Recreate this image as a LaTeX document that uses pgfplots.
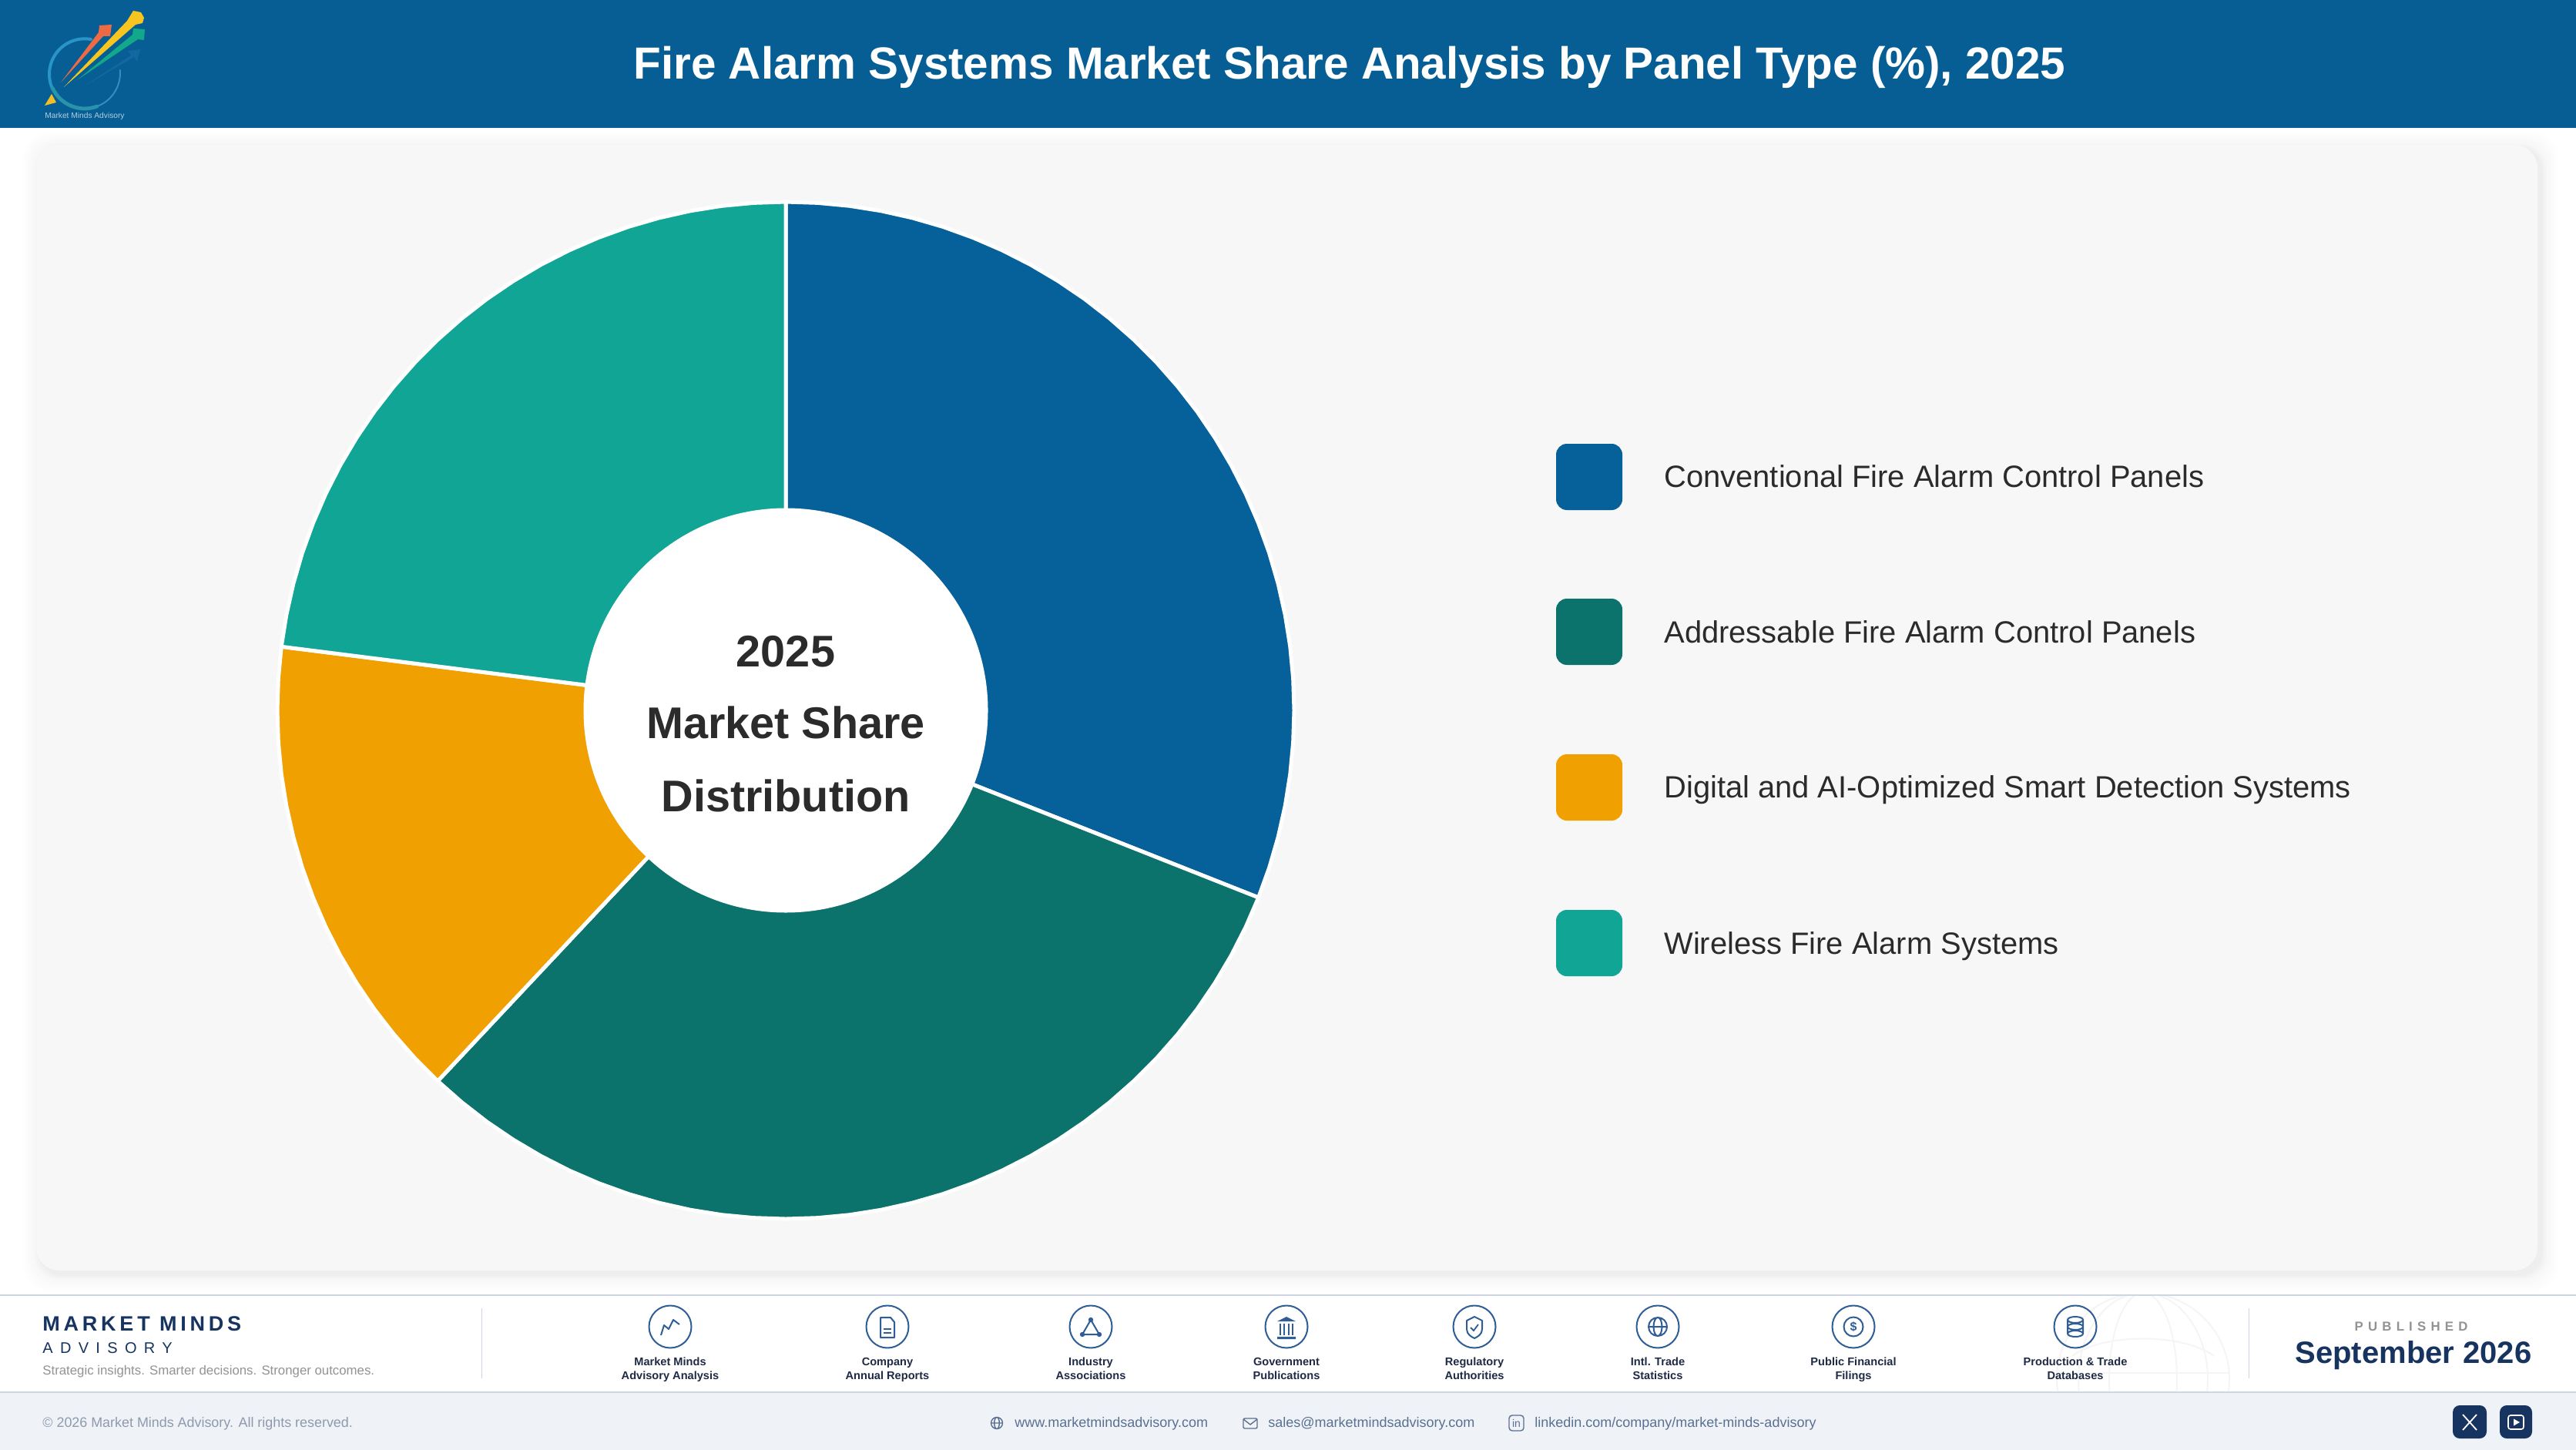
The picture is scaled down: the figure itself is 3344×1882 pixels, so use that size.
\documentclass[border=0pt]{standalone}
\usepackage{fontspec}
\usepackage{pgfplots}
\pgfplotsset{compat=1.18}
\setmainfont{Liberation Sans}
\definecolor{hdr}{HTML}{065E94}
\definecolor{cA}{HTML}{06609A}
\definecolor{cB}{HTML}{0B726C}
\definecolor{cC}{HTML}{F0A000}
\definecolor{cD}{HTML}{10A594}
\definecolor{card}{HTML}{F7F7F8}
\definecolor{navy}{HTML}{17335F}
\definecolor{ico}{HTML}{2F5E96}
\definecolor{lbl}{HTML}{1F2A44}
\definecolor{foot}{HTML}{EFF3F8}
\definecolor{rule}{HTML}{D0D5E3}
\definecolor{ctxt}{HTML}{2B2B2B}
\definecolor{lr}{HTML}{EE6A45}
\definecolor{ly}{HTML}{F6C51F}
\definecolor{lg}{HTML}{12A98A}
\definecolor{lb}{HTML}{1F70AE}
\definecolor{lt}{HTML}{F5BC2A}
\definecolor{ctc}{HTML}{5A7090}
\definecolor{cpy}{HTML}{8E9AAB}
\newcommand{\F}[1]{\fontsize{#1}{#1}\selectfont}
\newcommand{\icon}[3]{%
  \begin{scope}[shift={(#1,1722)}]
    \draw[ico,line width=1pt] (0,0) circle (27.5);
    #3
  \end{scope}
  \node[anchor=base,inner sep=0,text=lbl] at (#1,1772) {\F{7.3}\bfseries #2};}
\begin{document}
\begin{tikzpicture}[x=0.5pt,y=-0.5pt]
\useasboundingbox (0,0) rectangle (3344,1882);
% page
\fill[white] (-4,-4) rectangle (3348,1886);
\fill[hdr] (-4,-4) rectangle (3348,166);
% card shadow and card
\foreach \e in {22,20,...,8}{
  \fill[black,opacity=0.004,rounded corners=17pt] (47+5-\e,188+5-\e) rectangle (3294+5+\e,1649+5+\e);}
\foreach \e in {6,4,2}{
  \fill[black,opacity=0.012,rounded corners=16pt] (47+5-\e,188+5-\e) rectangle (3294+5+\e,1649+5+\e);}
\fill[card,rounded corners=15pt] (47,188) rectangle (3294,1649);
% the chart
\begin{axis}[at={(0pt,-941pt)},anchor=south west,width=1672pt,height=941pt,scale only axis,
  hide axis,clip=false,y dir=reverse,
  xmin=-1020,xmax=2324,ymin=-922,ymax=960]
\addplot[fill=cA,draw=white,line width=2.5pt,data cs=polar] coordinates {(0,0)
 (-90,660)(-86.4,660)(-82.8,660)(-79.2,660)(-75.6,660)(-72,660)(-68.4,660)(-64.8,660)(-61.2,660)(-57.6,660)(-54,660)(-50.4,660)(-46.8,660)(-43.2,660)(-39.6,660)(-36,660)(-32.4,660)(-28.8,660)(-25.2,660)(-21.6,660)(-18,660)(-14.4,660)(-10.8,660)(-7.2,660)(-3.6,660)(0,660)(3.6,660)(7.2,660)(10.8,660)(14.4,660)(18,660)(21.6,660)
 (0,0)};
\addplot[fill=cB,draw=white,line width=2.5pt,data cs=polar] coordinates {(0,0)
 (21.6,660)(25.2,660)(28.8,660)(32.4,660)(36,660)(39.6,660)(43.2,660)(46.8,660)(50.4,660)(54,660)(57.6,660)(61.2,660)(64.8,660)(68.4,660)(72,660)(75.6,660)(79.2,660)(82.8,660)(86.4,660)(90,660)(93.6,660)(97.2,660)(100.8,660)(104.4,660)(108,660)(111.6,660)(115.2,660)(118.8,660)(122.4,660)(126,660)(129.6,660)(133.2,660)
 (0,0)};
\addplot[fill=cC,draw=white,line width=2.5pt,data cs=polar] coordinates {(0,0)
 (133.2,660)(136.8,660)(140.4,660)(144,660)(147.6,660)(151.2,660)(154.8,660)(158.4,660)(162,660)(165.6,660)(169.2,660)(172.8,660)(176.4,660)(180,660)(183.6,660)(187.2,660)
 (0,0)};
\addplot[fill=cD,draw=white,line width=2.5pt,data cs=polar] coordinates {(0,0)
 (187.2,660)(190.8,660)(194.4,660)(198,660)(201.6,660)(205.2,660)(208.8,660)(212.4,660)(216,660)(219.6,660)(223.2,660)(226.8,660)(230.4,660)(234,660)(237.6,660)(241.2,660)(244.8,660)(248.4,660)(252,660)(255.6,660)(259.2,660)(262.8,660)(266.4,660)(270,660)
 (0,0)};
\end{axis}
% donut hole and centre text
\fill[white] (1020,922) circle (262.5);
\node[anchor=base,inner sep=0,text=ctxt] at (1020,865) {\F{28.8}\bfseries 2025};
\node[anchor=base,inner sep=0,text=ctxt] at (1020,958.5) {\F{28.8}\bfseries Market Share};
\node[anchor=base,inner sep=0,text=ctxt] at (1020,1053) {\F{28.8}\bfseries Distribution};
% title
\node[anchor=base,inner sep=0,text=white] at (1752,103) {\F{29.2}\bfseries Fire Alarm Systems Market Share Analysis by Panel Type (\%), 2025};
% legend
\fill[cA,rounded corners=7pt] (2020,576) rectangle (2106,662);
\fill[cB,rounded corners=7pt] (2020,777) rectangle (2106,863);
\fill[cC,rounded corners=7pt] (2020,979) rectangle (2106,1065);
\fill[cD,rounded corners=7pt] (2020,1181) rectangle (2106,1267);
\node[anchor=base west,inner sep=0,text=ctxt] at (2160,632) {\F{19.95}Conventional Fire Alarm Control Panels};
\node[anchor=base west,inner sep=0,text=ctxt] at (2160,834) {\F{19.95}Addressable Fire Alarm Control Panels};
\node[anchor=base west,inner sep=0,text=ctxt] at (2160,1035) {\F{19.95}Digital and AI-Optimized Smart Detection Systems};
\node[anchor=base west,inner sep=0,text=ctxt] at (2160,1238) {\F{19.95}Wireless Fire Alarm Systems};
% logo
\draw[line width=2pt,color=cyan!60!hdr,line cap=round] (118,51) arc (-80:-205:46);
\draw[line width=2.4pt,color=cyan!50!hdr!80!green,line cap=round] (68.3,114.4) arc (-205:-290:46);
\draw[line width=1pt,color=cyan!50!hdr,line cap=round] (125.7,138.2) arc (-290:-365:46);
\fill[lt] (58,137) -- (67,122) -- (73,133) -- cycle;
\fill[lb!55!hdr] (107,113) -- (170,72) -- (166,66) -- (182,64) -- (178,80) -- (174,74) -- cycle;
\fill[lg] (100,104) -- (172,45) -- (173,37) -- (188,38) -- (187,52) -- (179,51) -- cycle;
\fill[lr] (79,107) -- (128,42) -- (129,33) -- (145,32) -- (143,47) -- (134,47) -- cycle;
\fill[ly] (83,113) -- (165,27) -- (173,14) -- (183,16) -- (187,23) -- (185,30) -- (176,32) -- cycle;
\node[anchor=base west,inner sep=0,text=white!70!hdr] at (58,154) {\F{5.1}Market Minds Advisory};
% footer
\fill[foot] (-4,1806) rectangle (3348,1886);
\begin{scope}
  \clip (2650,1681) rectangle (2910,1806);
  \draw[gray!8,line width=1pt] (2782,1790) circle (112);
  \draw[gray!8,line width=1pt] (2782,1790) ellipse (44 and 112);
  \draw[gray!8,line width=1pt] (2782,1790) ellipse (84 and 112);
  \draw[gray!8,line width=1pt] (2670,1782) -- (2894,1782);
  \draw[gray!8,line width=1pt] (2690,1760) .. controls (2730,1730) and (2834,1730) .. (2874,1760);
\end{scope}
\draw[rule,line width=1pt] (0,1680.5) -- (3344,1680.5);
\draw[rule,line width=1pt] (0,1806.5) -- (3344,1806.5);
\draw[rule,line width=0.5pt] (625,1698) -- (625,1789);
\draw[rule,line width=0.5pt] (2919,1698) -- (2919,1789);
\node[anchor=base west,inner sep=0,text=navy] at (55,1727) {\fontspec{Liberation Sans}[LetterSpace=17.7]\F{13.5}\bfseries MARKET MINDS};
\node[anchor=base west,inner sep=0,text=navy] at (55,1756.5) {\fontspec{Liberation Sans}[LetterSpace=46.6]\F{10}ADVISORY};
\node[anchor=base west,inner sep=0,text=gray!85] at (55,1784) {\F{8.4}Strategic insights. Smarter decisions. Stronger outcomes.};
% source icons
\icon{870}{Market Minds}{\draw[ico,line width=1pt,line join=round] (-12,11) -- (-8,-2) -- (-2,3) -- (4,-9) -- (12,-3);}
\node[anchor=base,inner sep=0,text=lbl] at (870,1790) {\F{7.3}\bfseries Advisory Analysis};
\icon{1152}{Company}{\draw[ico,line width=1pt,line join=round] (-9,-12) -- (4,-12) -- (9,-6) -- (9,14) -- (-9,14) -- cycle;
  \draw[ico,line width=.9pt] (-5,3) -- (5,3) (-5,8) -- (5,8);}
\node[anchor=base,inner sep=0,text=lbl] at (1152,1790) {\F{7.3}\bfseries Annual Reports};
\icon{1416}{Industry}{\draw[ico,line width=1pt] (0,-9) -- (-11,10) -- (11,10) -- cycle;
  \fill[ico] (0,-9) circle (3.2) (-11,10) circle (3.2) (11,10) circle (3.2);}
\node[anchor=base,inner sep=0,text=lbl] at (1416,1790) {\F{7.3}\bfseries Associations};
\icon{1670}{Government}{\fill[ico] (-12,-7) -- (0,-13) -- (12,-7) -- cycle (-12,13) rectangle (12,16);
  \draw[ico,line width=1pt] (-8,-4) -- (-8,11) (-3,-4) -- (-3,11) (3,-4) -- (3,11) (8,-4) -- (8,11);}
\node[anchor=base,inner sep=0,text=lbl] at (1670,1790) {\F{7.3}\bfseries Publications};
\icon{1914}{Regulatory}{\draw[ico,line width=1pt,line join=round] (0,-13) -- (10,-8) -- (10,3) .. controls (10,10) and (4,13) .. (0,15) .. controls (-4,13) and (-10,10) .. (-10,3) -- (-10,-8) -- cycle;
  \draw[ico,line width=.9pt] (-5,1) -- (-1,5) -- (5,-3);}
\node[anchor=base,inner sep=0,text=lbl] at (1914,1790) {\F{7.3}\bfseries Authorities};
\icon{2152}{Intl. Trade}{\draw[ico,line width=1pt] (0,0) circle (12) (0,0) ellipse (5.5 and 12) (-12,0) -- (12,0);}
\node[anchor=base,inner sep=0,text=lbl] at (2152,1790) {\F{7.3}\bfseries Statistics};
\icon{2406}{Public Financial}{\draw[ico,line width=1pt] (0,0) circle (12.5); \node[inner sep=0,text=ico] at (0,0) {\F{8}\bfseries \$};}
\node[anchor=base,inner sep=0,text=lbl] at (2406,1790) {\F{7.3}\bfseries Filings};
\icon{2694}{Production \& Trade}{\draw[ico,line width=1pt] (-10,-9) -- (-10,9) (10,-9) -- (10,9) (0,-9) ellipse (10 and 4) (0,0) ellipse (10 and 4) (0,9) ellipse (10 and 4);}
\node[anchor=base,inner sep=0,text=lbl] at (2694,1790) {\F{7.3}\bfseries Databases};
% published
\node[anchor=base,inner sep=0,text=gray!85] at (3130,1727) {\fontspec{Liberation Sans}[LetterSpace=37]\F{8.4}\bfseries PUBLISHED};
\node[anchor=base,inner sep=0,text=navy] at (3133,1769) {\F{20}\bfseries September 2026};
% bottom strip
\node[anchor=base west,inner sep=0,text=cpy] at (55,1852) {\F{8.95}© 2026 Market Minds Advisory. All rights reserved.};
\draw[ctc,line width=.7pt] (1294,1847) circle (7.5) (1294,1847) ellipse (3.3 and 7.5) (1286.5,1847) -- (1301.5,1847);
\node[anchor=base west,inner sep=0,text=ctc] at (1317,1852) {\F{9}www.marketmindsadvisory.com};
\draw[ctc,line width=.7pt,rounded corners=1pt] (1614,1841) rectangle (1632,1854);
\draw[ctc,line width=.7pt] (1614,1842) -- (1623,1849) -- (1632,1842);
\node[anchor=base west,inner sep=0,text=ctc] at (1646,1852) {\F{9}sales@marketmindsadvisory.com};
\draw[ctc,line width=.7pt,rounded corners=2pt] (1959,1837) rectangle (1978,1857);
\node[anchor=center,inner sep=0,text=ctc] at (1968.5,1847) {\F{7}in};
\node[anchor=base west,inner sep=0,text=ctc] at (1992,1852) {\F{9}linkedin.com/company/market-minds-advisory};
\fill[navy,rounded corners=4.5pt] (3184,1824) rectangle (3228,1867);
\fill[navy,rounded corners=4.5pt] (3245,1824) rectangle (3287,1867);
\draw[white,line width=.9pt] (3197,1836) -- (3215,1856) (3215,1836) -- (3197,1856);
\draw[white,line width=.8pt,rounded corners=1.5pt] (3256,1837) rectangle (3276,1855);
\fill[white] (3263,1841.5) -- (3271,1846) -- (3263,1850.5) -- cycle;
\end{tikzpicture}
\end{document}
